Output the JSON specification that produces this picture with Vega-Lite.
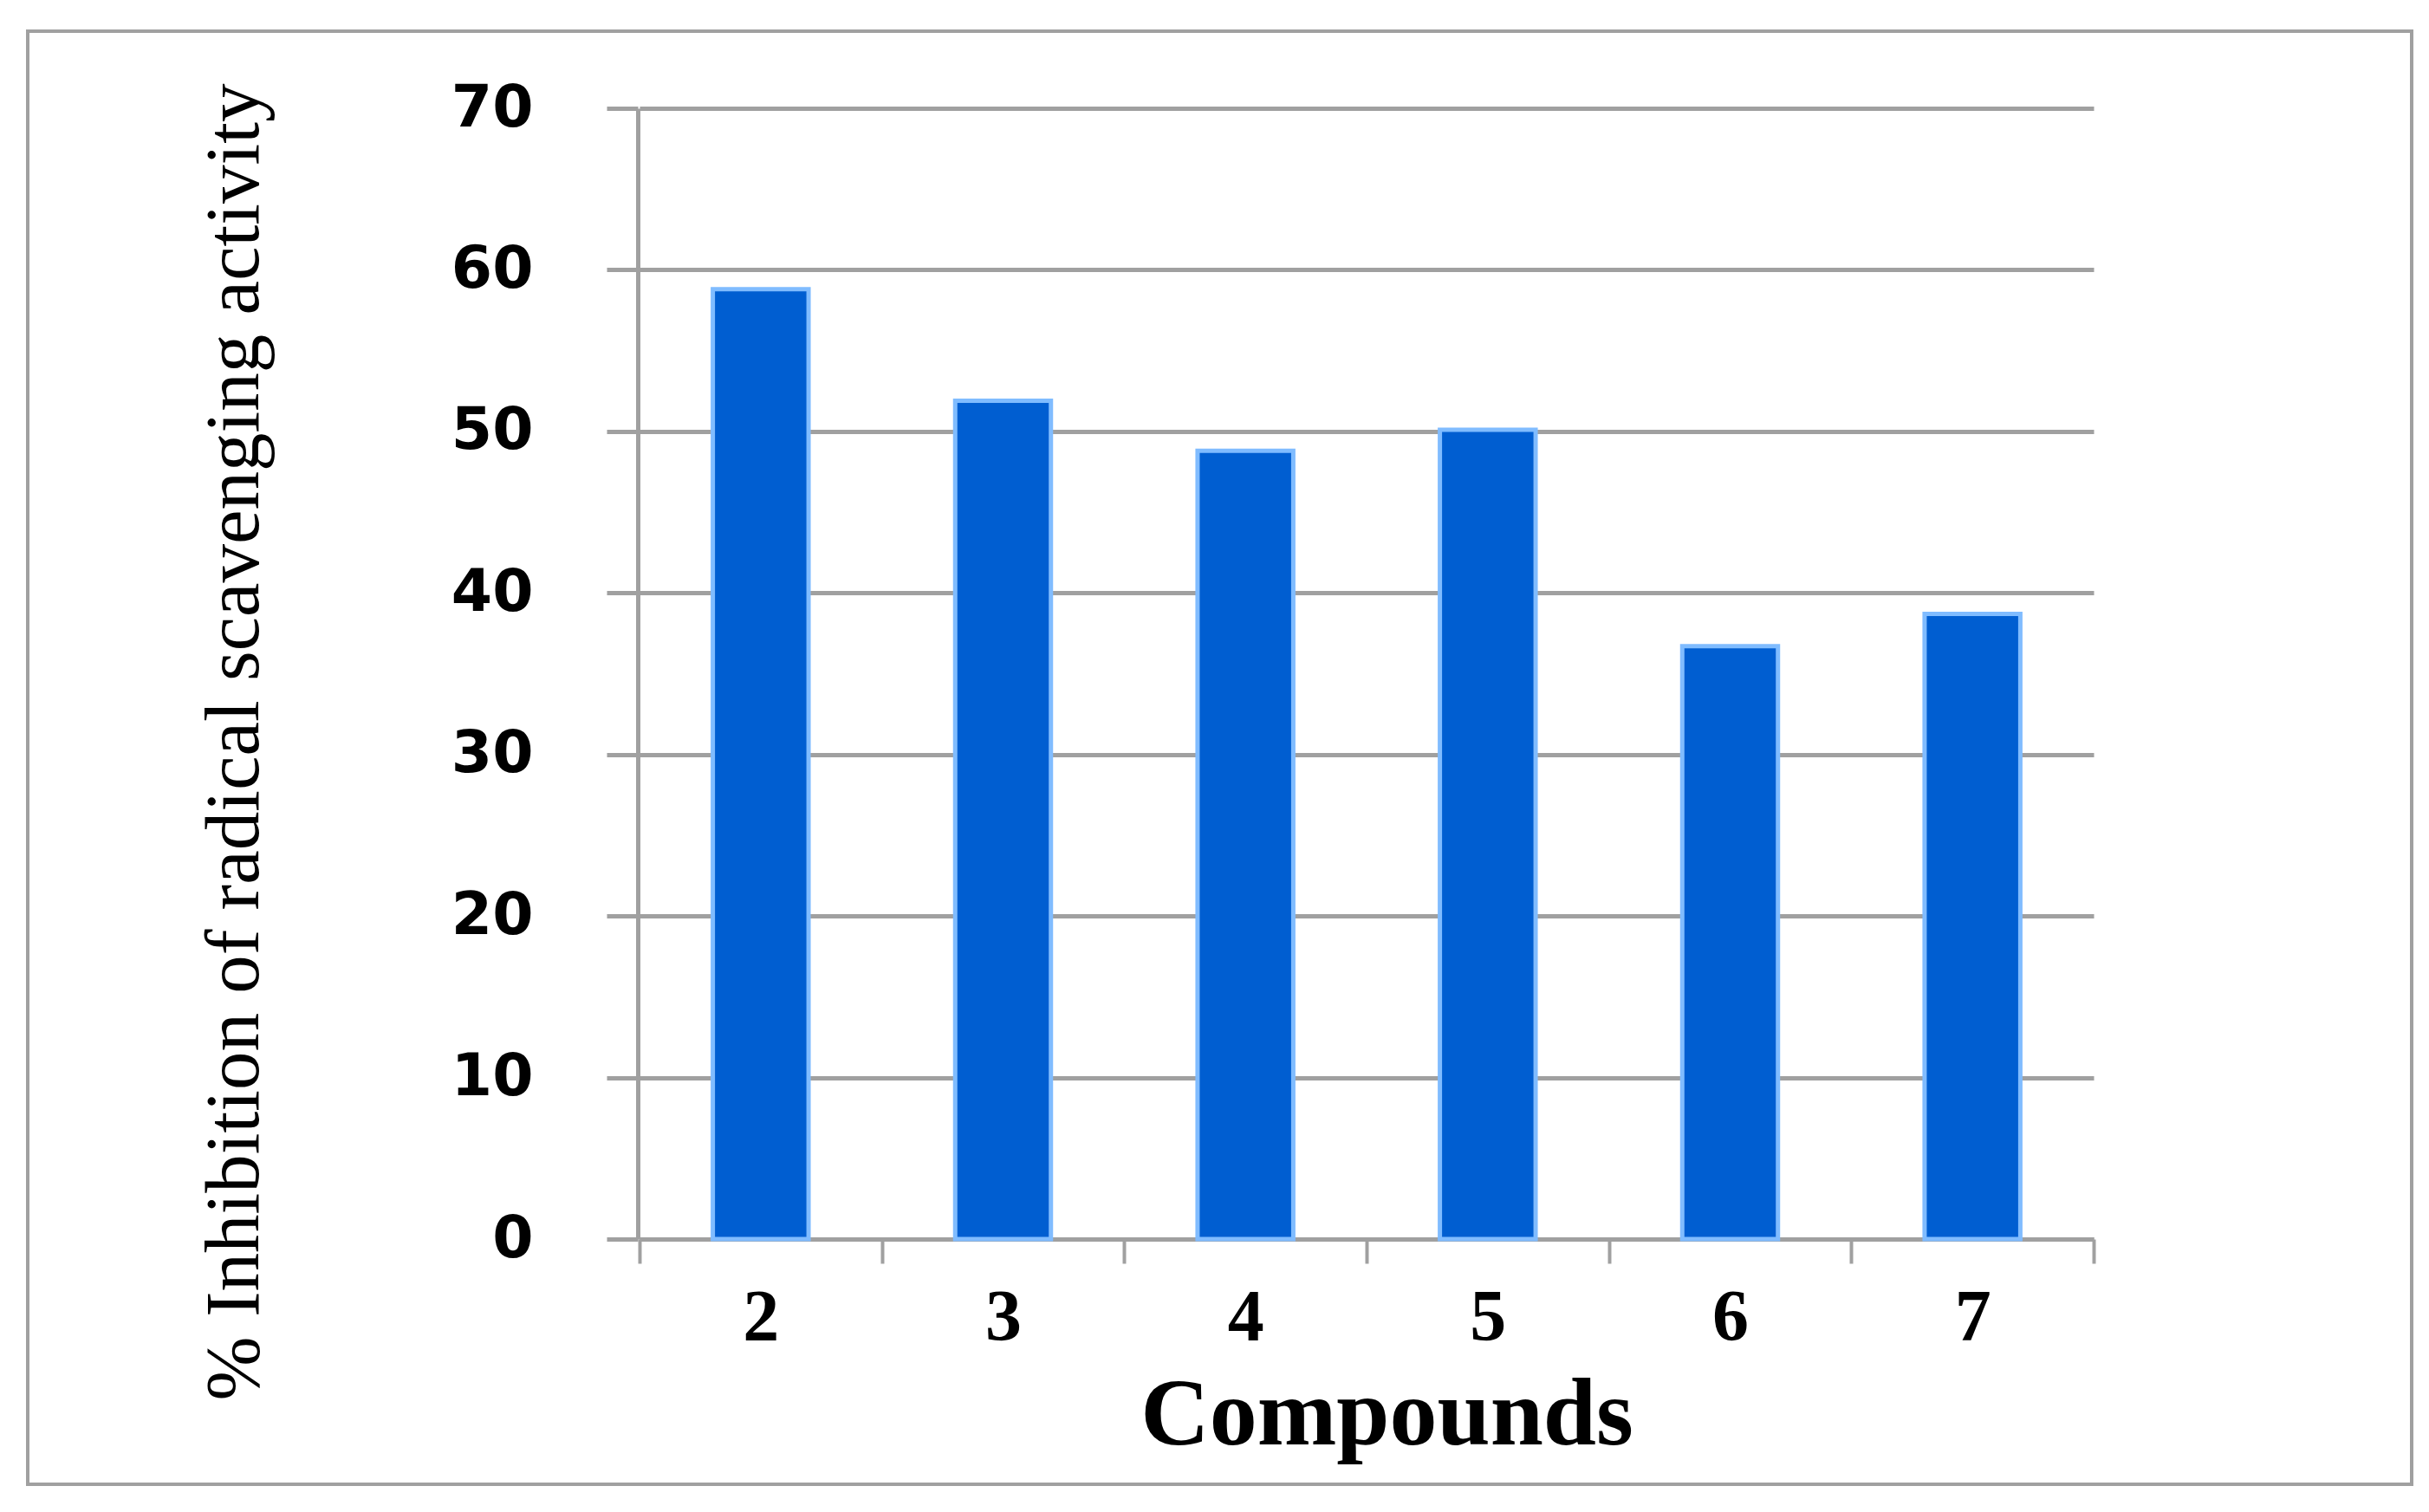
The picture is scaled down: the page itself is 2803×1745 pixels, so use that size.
{
  "$schema": "https://vega.github.io/schema/vega-lite/v6.json",
  "width": 2751,
  "height": 1677,
  "autosize": {"type": "none"},
  "padding": {"left": 32, "top": 36, "right": 20, "bottom": 32},
  "background": "white",
  "config": {"view": {"stroke": "#a0a0a0", "strokeWidth": 4}},
  "data": {
    "values": [
      {"compound": "2", "inhibition": 58.8},
      {"compound": "3", "inhibition": 51.9},
      {"compound": "4", "inhibition": 48.8},
      {"compound": "5", "inhibition": 50.1},
      {"compound": "6", "inhibition": 36.7},
      {"compound": "7", "inhibition": 38.7}
    ]
  },
  "mark": {"type": "bar", "fill": "#005ED1", "stroke": "#80BCFF", "strokeWidth": 5, "width": {"band": 0.395}},
  "encoding": {
    "x": {
      "field": "compound",
      "type": "nominal",
      "sort": null,
      "scale": {"range": [706, 2384], "paddingInner": 0, "paddingOuter": 0},
      "axis": {
        "title": "Compounds",
        "labelAngle": 0,
        "tickBand": "extent",
        "tickSize": 28,
        "tickColor": "#a0a0a0",
        "tickWidth": 4,
        "domainColor": "#a0a0a0",
        "domainWidth": 5,
        "offset": -283,
        "labelFont": "Liberation Serif",
        "labelFontSize": 84,
        "labelFontWeight": "bold",
        "labelColor": "#000000",
        "labelBaseline": "alphabetic",
        "labelPadding": 88,
        "titleFont": "Liberation Serif",
        "titleFontSize": 110,
        "titleFontWeight": "bold",
        "titleColor": "#000000",
        "titleX": 1568,
        "titleY": 236,
        "titleAlign": "center",
        "titleBaseline": "alphabetic"
      }
    },
    "y": {
      "field": "inhibition",
      "type": "quantitative",
      "scale": {"domain": [0, 70], "range": [1394, 89], "nice": false},
      "axis": {
        "title": "% Inhibition of radical scavenging activity",
        "values": [0, 10, 20, 30, 40, 50, 60, 70],
        "offset": -704,
        "grid": true,
        "gridColor": "#a0a0a0",
        "gridWidth": 5,
        "domainColor": "#a0a0a0",
        "domainWidth": 5,
        "tickColor": "#a0a0a0",
        "tickWidth": 5,
        "tickSize": 36,
        "labelFont": "DejaVu Sans",
        "labelFontSize": 68,
        "labelFontWeight": "bold",
        "labelColor": "#000000",
        "labelPadding": 85,
        "titleFont": "Liberation Serif",
        "titleFontSize": 89,
        "titleFontWeight": "normal",
        "titleColor": "#000000",
        "titleX": -439,
        "titleY": 820,
        "titleAngle": 270,
        "titleAlign": "center",
        "titleBaseline": "alphabetic"
      }
    }
  }
}
